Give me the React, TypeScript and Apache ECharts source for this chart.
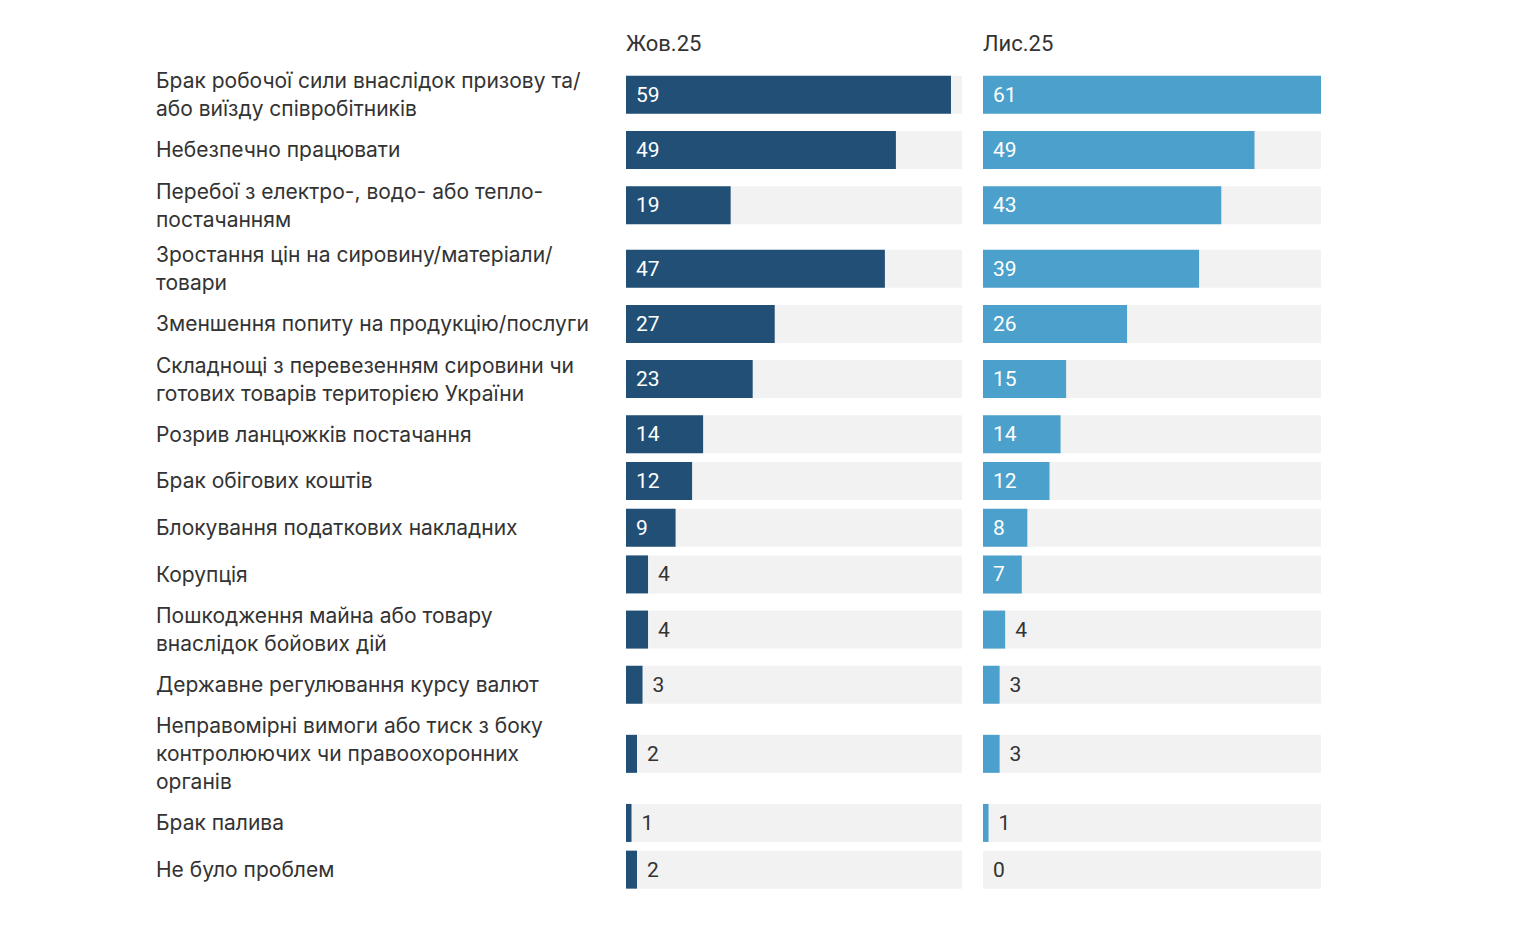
import { useEffect, useRef } from "react";
import * as echarts from "echarts";

const labels = [
  "Брак робочої сили внаслідок призову та/\nабо виїзду співробітників",
  "Небезпечно працювати",
  "Перебої з електро-, водо- або тепло-\nпостачанням",
  "Зростання цін на сировину/матеріали/\nтовари",
  "Зменшення попиту на продукцію/послуги",
  "Складнощі з перевезенням сировини чи\nготових товарів територією України",
  "Розрив ланцюжків постачання",
  "Брак обігових коштів",
  "Блокування податкових накладних",
  "Корупція",
  "Пошкодження майна або товару\nвнаслідок бойових дій",
  "Державне регулювання курсу валют",
  "Неправомірні вимоги або тиск з боку\nконтролюючих чи правоохоронних\nорганів",
  "Брак палива",
  "Не було проблем",
];
const oct25 = [59, 49, 19, 47, 27, 23, 14, 12, 9, 4, 4, 3, 2, 1, 2];
const nov25 = [61, 49, 43, 39, 26, 15, 14, 12, 8, 7, 4, 3, 3, 1, 0];
const periods = ["Жов.25", "Лис.25"];
const maxValue = 61;

// row slot height depends on how many lines the label takes
const slotFor = (lines: number) => (lines === 1 ? 47 : lines === 2 ? 64 : 92);

export default function App() {
  const ref = useRef<HTMLDivElement>(null);

  useEffect(() => {
    if (!ref.current) return;
    const chart = echarts.init(ref.current, undefined, { renderer: "svg" });

    const centers: number[] = [];
    let acc = 0;
    labels.forEach((l) => {
      const h = slotFor(l.split("\n").length);
      centers.push(acc + h / 2);
      acc += h;
    });
    const total = acc;

    const colors = ["#214f75", "#4ba0cc"];
    const makeBars = (values: number[], idx: number) => ({
      type: "custom",
      xAxisIndex: idx,
      yAxisIndex: idx,
      data: values.map((v, i) => [v, centers[i]]),
      renderItem: (params: any, api: any) => {
        const v = api.value(0);
        const y = api.value(1);
        const p0 = api.coord([0, y]);
        const pMax = api.coord([maxValue, y]);
        const pV = api.coord([v, y]);
        const h = 38;
        const inside = v >= 5;
        return {
          type: "group",
          children: [
            { type: "rect", shape: { x: p0[0], y: p0[1] - h / 2, width: pMax[0] - p0[0], height: h }, style: { fill: "#f2f2f2" } },
            { type: "rect", shape: { x: p0[0], y: p0[1] - h / 2, width: pV[0] - p0[0], height: h }, style: { fill: colors[idx] } },
            {
              type: "text",
              x: inside ? p0[0] + 10 : pV[0] + 10,
              y: p0[1],
              style: {
                text: String(v),
                fill: inside ? "#ffffff" : "#333333",
                font: "21px Roboto",
                verticalAlign: "middle",
                align: "left",
              },
            },
          ],
        };
      },
    });

    const option = {
      animation: false,
      grid: [
        { left: 626, width: 336, top: 63, height: 830 },
        { left: 983, width: 338, top: 63, height: 830 },
      ],
      xAxis: [0, 1].map((g) => ({ type: "value", gridIndex: g, min: 0, max: maxValue, show: false })),
      yAxis: [0, 1].map((g) => ({ type: "value", gridIndex: g, min: 0, max: total, inverse: true, show: false })),
      graphic: periods.map((p, i) => ({
        type: "text",
        left: i === 0 ? 626 : 983,
        top: 32,
        style: { text: p, font: "22px Roboto", fill: "#333333" },
      })),
      series: [
        {
          type: "custom",
          xAxisIndex: 0,
          yAxisIndex: 0,
          data: labels.map((l, i) => [0, centers[i]]),
          renderItem: (params: any, api: any) => {
            const p = api.coord([0, api.value(1)]);
            return {
              type: "text",
              x: 156,
              y: p[1],
              style: {
                text: labels[params.dataIndex],
                fill: "#333333",
                font: "21px Inter",
                lineHeight: 28,
                verticalAlign: "middle",
                align: "left",
              },
            };
          },
        },
        makeBars(oct25, 0),
        makeBars(nov25, 1),
      ],
    };
    chart.setOption(option);
    return () => chart.dispose();
  }, []);

  return <div ref={ref} style={{ position: "fixed", left: 0, top: 0, width: 1524, height: 928, background: "#fff" }} />;
}
